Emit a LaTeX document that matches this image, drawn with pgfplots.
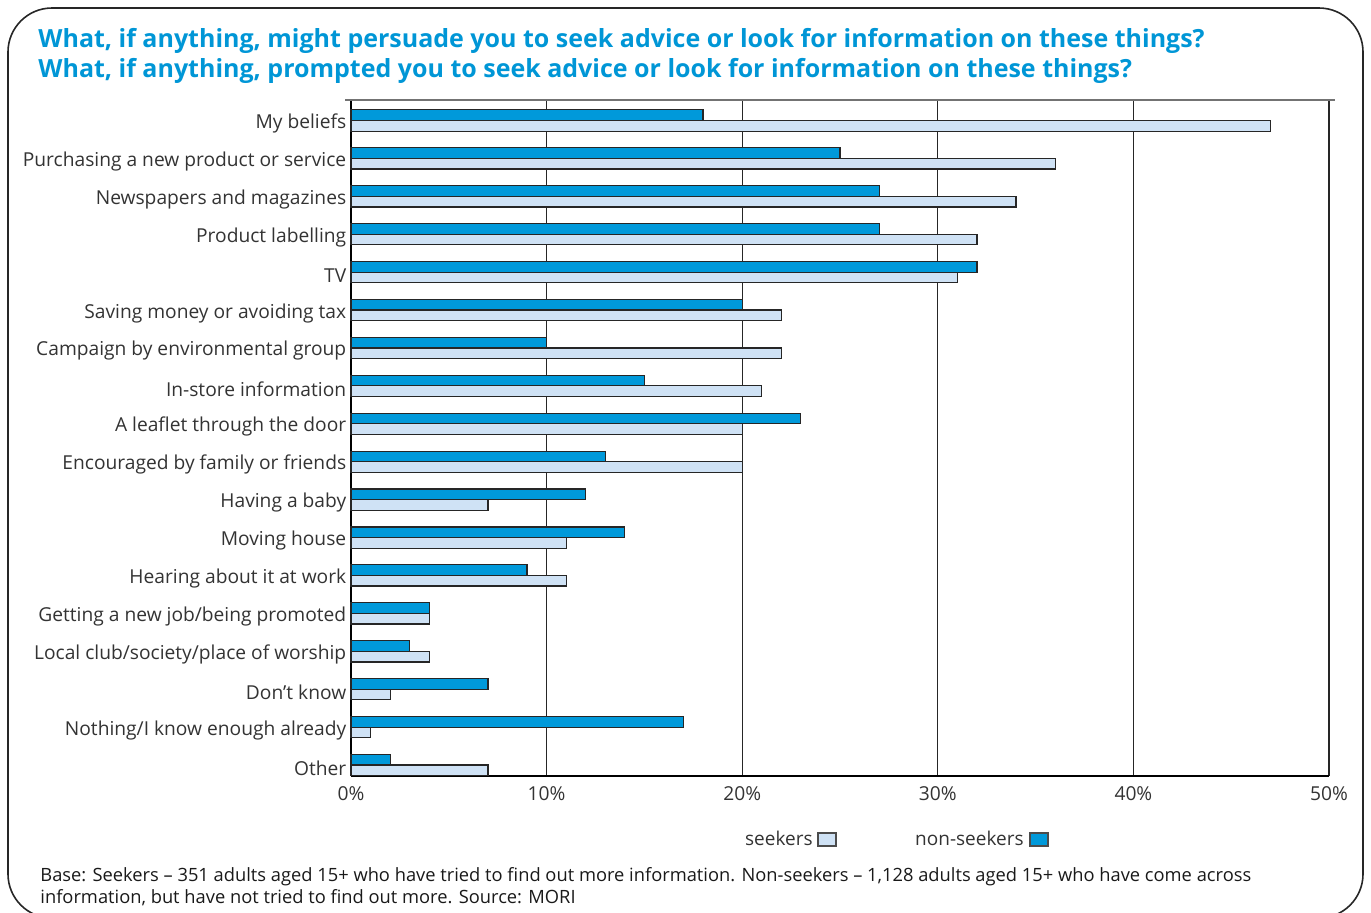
\documentclass[border=0pt]{standalone}
\usepackage{pgfplots}
\pgfplotsset{compat=1.18}
\usepackage{fontspec}
\setmainfont{Open Sans}
\definecolor{dark}{HTML}{0099DA}
\definecolor{light}{HTML}{CFE2F5}
\definecolor{ttl}{HTML}{0096D6}
\definecolor{txt}{HTML}{333333}
\begin{document}
\begin{tikzpicture}
\useasboundingbox (0pt,0pt) rectangle (685.5pt,-456pt);
\begin{scope}[x=0.5pt,y=-0.5pt]
\draw[line width=0.8pt, black!85, rounded corners=22pt] (8,8) rectangle (1363,918);
\node[anchor=base west, inner sep=0pt, text=ttl, font=\fontsize{12.5}{14}\selectfont\bfseries] at (38,47) {What, if anything, might persuade you to seek advice or look for information on these things?};
\node[anchor=base west, inner sep=0pt, text=ttl, font=\fontsize{12.5}{14}\selectfont\bfseries] at (38,77) {What, if anything, prompted you to seek advice or look for information on these things?};
% legend
\node[anchor=base east, inner sep=0pt, text=txt, font=\fontsize{9.5}{11}\selectfont] at (813,845) {seekers};
\draw[line width=0.6pt, black!70, fill=light] (818,833) rectangle (836,846);
\node[anchor=base east, inner sep=0pt, text=txt, font=\fontsize{9.5}{11}\selectfont] at (1024,845) {non-seekers};
\draw[line width=0.6pt, black!70, fill=dark] (1030,833) rectangle (1048,846);
% footnote
\node[anchor=base west, inner sep=0pt, text=black!90, font=\fontsize{9.15}{10}\selectfont] at (40,881) {Base: Seekers -- 351 adults aged 15+ who have tried to find out more information. Non-seekers -- 1,128 adults aged 15+ who have come across};
\node[anchor=base west, inner sep=0pt, text=black!90, font=\fontsize{9.15}{10}\selectfont] at (40,903) {information, but have not tried to find out more. Source: MORI};
\end{scope}
\begin{axis}[
  at={(175.5pt,-388pt)}, anchor=south west,
  scale only axis, width=489pt, height=338pt,
  xmin=0, xmax=50, ymin=-0.54, ymax=17.29, y dir=reverse,
  xbar, bar width=0.28,
  axis x line*=bottom, axis y line*=left,
  axis line style={black, line width=0.7pt, -},
  xtick={0,10,20,30,40,50},
  xticklabels={0\%,10\%,20\%,30\%,40\%,50\%},
  ytick={0,...,17},
  yticklabels={My beliefs,Purchasing a new product or service,Newspapers and magazines,Product labelling,TV,Saving money or avoiding tax,Campaign by environmental group,In-store information,A leaflet through the door,Encouraged by family or friends,Having a baby,Moving house,Hearing about it at work,Getting a new job/being promoted,Local club/society/place of worship,Don’t know,Nothing/I know enough already,Other},
  major tick length=0pt,
  xmajorgrids, grid style={black!85, line width=0.6pt},
  tick label style={text=txt, font=\fontsize{9.6}{11}\selectfont},
  yticklabel style={inner sep=2.2pt, yshift=-1.5pt},
  xticklabel style={yshift=-1.5pt},
  /pgf/number format/assume math mode=true,
  clip=false,
]
\addplot[draw=black!85, line width=0.6pt, fill=dark, bar shift=-0.14] coordinates {
(18,0) (25,1) (27,2) (27,3) (32,4) (20,5) (10,6) (15,7) (23,8) (13,9) (12,10) (14,11) (9,12) (4,13) (3,14) (7,15) (17,16) (2,17)};
\addplot[draw=black!85, line width=0.6pt, fill=light, bar shift=0.14] coordinates {
(47,0) (36,1) (34,2) (32,3) (31,4) (22,5) (22,6) (21,7) (20,8) (20,9) (7,10) (11,11) (11,12) (4,13) (4,14) (2,15) (1,16) (7,17)};
\draw[black!55, line width=0.6pt] (rel axis cs:-0.006,1) -- (rel axis cs:1.006,1);
\end{axis}
\end{tikzpicture}
\end{document}
